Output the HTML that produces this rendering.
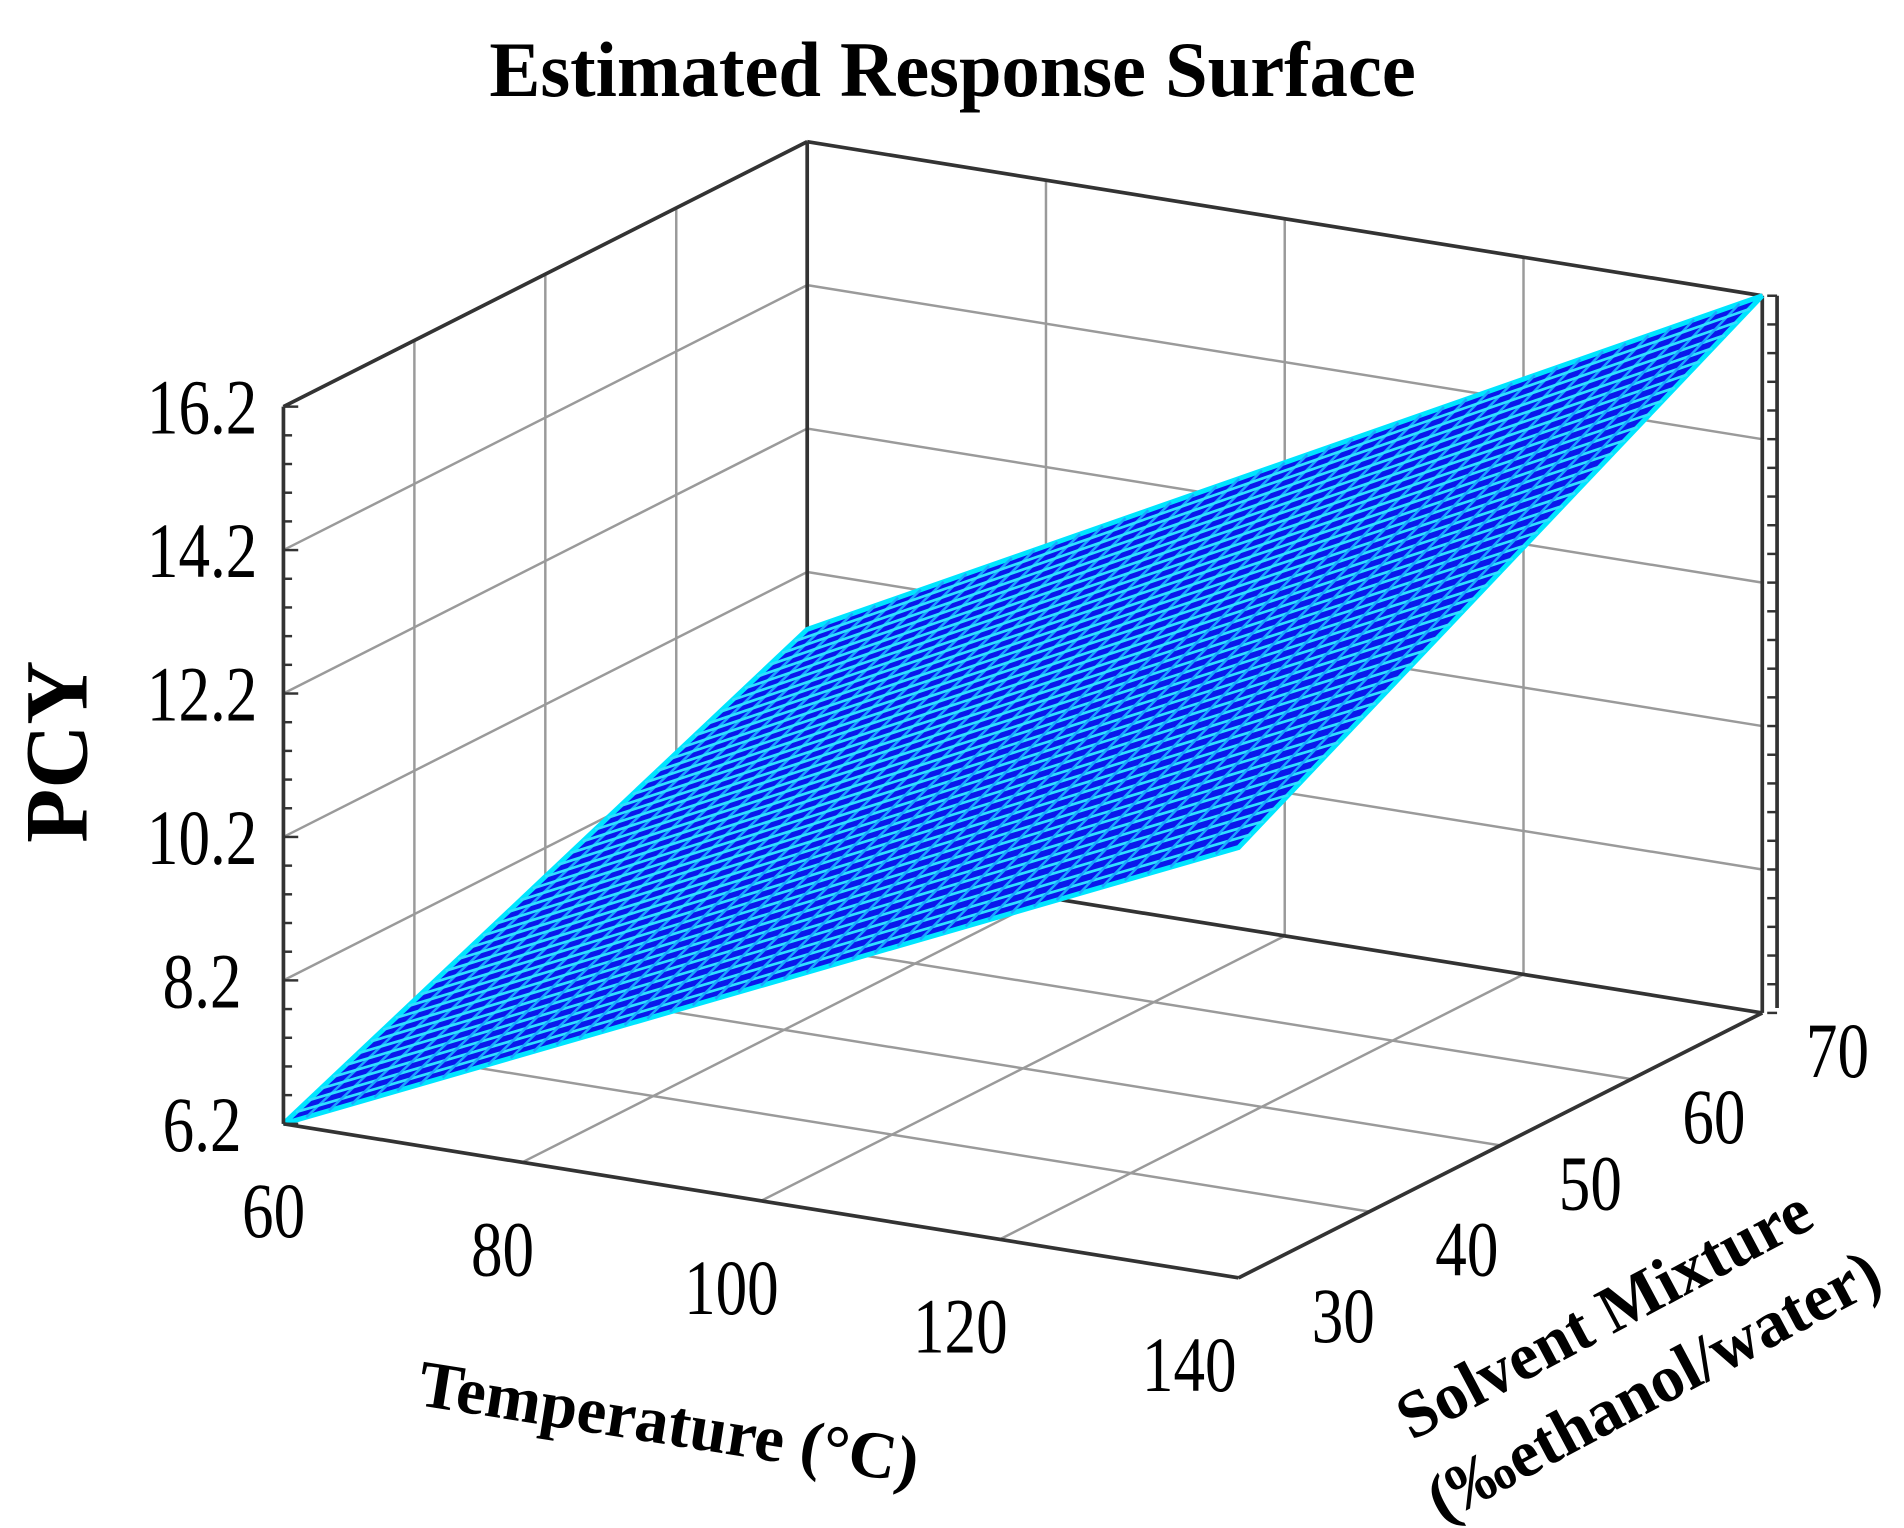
<!DOCTYPE html>
<html><head><meta charset="utf-8">
<style>
html,body{margin:0;padding:0;background:#fff;}
svg{display:block;}
text{font-family:"Liberation Serif","DejaVu Serif",serif;}
</style></head>
<body>
<svg id="chart" width="1904" height="1528" viewBox="0 0 1545 1240" preserveAspectRatio="none" xmlns="http://www.w3.org/2000/svg">
<text x="773" y="78" text-anchor="middle" font-size="64" font-weight="bold" transform="translate(773,0) scale(0.97,1) translate(-773,0)">Estimated Response Surface</text>
<g id="grid"></g>
<g id="surface"></g>
<g id="box"></g>
<g id="labels"></g>
<text transform="translate(70,610) rotate(-90)" text-anchor="middle" font-size="72" font-weight="bold">PCY</text>
<text transform="translate(540,1172) rotate(9)" text-anchor="middle" font-size="54" font-weight="bold">Temperature (°C)</text>
<text transform="translate(1310,1082) rotate(-28)" text-anchor="middle" font-size="54" font-weight="bold">Solvent Mixture</text>
<text transform="translate(1350,1140) rotate(-28)" text-anchor="middle" font-size="54" font-weight="bold">(‰ethanol/water)</text>
</svg>
<script>
// Data
const tempTicks = [60, 80, 100, 120, 140];
const solvTicks = [30, 40, 50, 60, 70];
const zTicks = [6.2, 8.2, 10.2, 12.2, 14.2, 16.2];
const zTickLabels = ["6.2", "8.2", "10.2", "12.2", "14.2", "16.2"];
// estimated response at the surface corners
const cornerTemps = [60, 140];
const cornerSolvents = [30, 70];
const cornerPCY = [[6.2, 9.4], [12.2, 16.2]]; // [tempIdx][solvIdx]

const NS = "http://www.w3.org/2000/svg";
const O = [230, 912], TV = [775, 125], SV = [425, -215], ZH = 582;
const tMin = 60, tMax = 140, sMin = 30, sMax = 70, zMin = 6.2, zMax = 16.2;
function proj(t, s, z) {
  const a = (t - tMin) / (tMax - tMin), b = (s - sMin) / (sMax - sMin), c = (z - zMin) / (zMax - zMin);
  return [O[0] + a * TV[0] + b * SV[0], O[1] + a * TV[1] + b * SV[1] - c * ZH];
}
function pcy(t, s) {
  const a = (t - cornerTemps[0]) / (cornerTemps[1] - cornerTemps[0]);
  const b = (s - cornerSolvents[0]) / (cornerSolvents[1] - cornerSolvents[0]);
  return cornerPCY[0][0] * (1 - a) * (1 - b) + cornerPCY[1][0] * a * (1 - b) + cornerPCY[0][1] * (1 - a) * b + cornerPCY[1][1] * a * b;
}
function line(g, p, q, stroke, w) {
  const l = document.createElementNS(NS, "line");
  l.setAttribute("x1", p[0]); l.setAttribute("y1", p[1]);
  l.setAttribute("x2", q[0]); l.setAttribute("y2", q[1]);
  l.setAttribute("stroke", stroke); l.setAttribute("stroke-width", w);
  g.appendChild(l); return l;
}
const grid = document.getElementById("grid");
const gc = "#9a9a9a";
tempTicks.forEach(t => { const l = line(grid, proj(t, sMax, zMin), proj(t, sMax, zMax), gc, 2);
  
   });
zTicks.forEach(z => { const l = line(grid, proj(tMin, sMax, z), proj(tMax, sMax, z), gc, 2);
  
   });
solvTicks.forEach(s => { const l = line(grid, proj(tMin, s, zMin), proj(tMin, s, zMax), gc, 2);
  
   });
zTicks.forEach(z => { const l = line(grid, proj(tMin, sMin, z), proj(tMin, sMax, z), gc, 2);
  
   });
tempTicks.forEach(t => { const l = line(grid, proj(t, sMin, zMin), proj(t, sMax, zMin), gc, 2);
  
   });
solvTicks.forEach(s => { const l = line(grid, proj(tMin, s, zMin), proj(tMax, s, zMin), gc, 2);
  
   });
const bc = "#333";
[[proj(tMin, sMin, zMax), proj(tMin, sMax, zMax)],
 [proj(tMin, sMax, zMax), proj(tMax, sMax, zMax)],
 [proj(tMin, sMax, zMin), proj(tMin, sMax, zMax)],
 [proj(tMin, sMax, zMin), proj(tMax, sMax, zMin)],
 [proj(tMax, sMax, zMin), proj(tMax, sMax, zMax)]].forEach(e => {
  const l = line(grid, e[0], e[1], bc, 3);
  
  
});

// surface
const surf = document.getElementById("surface");
const poly = document.createElementNS(NS, "polygon");


const pts = [proj(tMin, sMin, pcy(tMin, sMin)), proj(tMax, sMin, pcy(tMax, sMin)), proj(tMax, sMax, pcy(tMax, sMax)), proj(tMin, sMax, pcy(tMin, sMax))];
poly.setAttribute("points", pts.map(p => p.join(",")).join(" "));
poly.setAttribute("fill", "#0a18ec"); poly.setAttribute("stroke", "#00e5ff"); poly.setAttribute("stroke-width", 4);
surf.appendChild(poly);
const N = 42;
for (let i = 1; i < N; i++) {
  const t = tMin + (tMax - tMin) * i / N, s = sMin + (sMax - sMin) * i / N;
  const l1 = line(surf, proj(t, sMin, pcy(t, sMin)), proj(t, sMax, pcy(t, sMax)), "#1aa8ff", 2);
  
  
  const l2 = line(surf, proj(tMin, s, pcy(tMin, s)), proj(tMax, s, pcy(tMax, s)), "#30e0ff", 2.2);
  
  
}

const box = document.getElementById("box");
[[proj(tMin, sMin, zMin), proj(tMin, sMin, zMax)],
 [proj(tMin, sMin, zMin), proj(tMax, sMin, zMin)],
 [proj(tMax, sMin, zMin), proj(tMax, sMax, zMin)]].forEach(e => {
  const l = line(box, e[0], e[1], bc, 3);
  
  
});
{ const a = proj(tMax, sMax, zMin), b = proj(tMax, sMax, zMax);
  const l = line(box, [a[0] + 12, a[1] - 4], [b[0] + 12, b[1]], bc, 3);
  
   }
for (let k = 0; k <= 25; k++) {
  const z = zMin + (zMax - zMin) * k / 25;
  const p = proj(tMin, sMin, z);
  const l = line(box, p, [p[0] + (k % 5 === 0 ? 12 : 7), p[1]], bc, 2);
  
  
  const q = proj(tMax, sMax, z);
  const l2 = line(box, [q[0] + 12, q[1]], [q[0] + 4, q[1]], bc, 2);
  
  
}

const lab = document.getElementById("labels");
function txt(x, y, s) {
  const t = document.createElementNS(NS, "text");
  t.setAttribute("x", x); t.setAttribute("y", y);
  t.setAttribute("font-size", 64); t.setAttribute("text-anchor", "middle");
  t.setAttribute("transform", `translate(${x},0) scale(0.8,1) translate(${-x},0)`);
  t.textContent = s;
  lab.appendChild(t); return t;
}
zTicks.forEach((z, i) => {
  const p = proj(tMin, sMin, z);
  const t = txt(p[0] - 66, p[1] + 22, zTickLabels[i]);
  
  
});
tempTicks.forEach((v, i) => {
  const p = proj(v, sMin, zMin);
  const t = txt(p[0] - 8 - i * 8, p[1] + 92, String(v));
  
  
});
solvTicks.forEach((v, i) => {
  const p = proj(tMax, v, zMin);
  const t = txt(p[0] + 85 - i * 6, p[1] + 52, String(v));
  
  
});
</script>
</body></html>
